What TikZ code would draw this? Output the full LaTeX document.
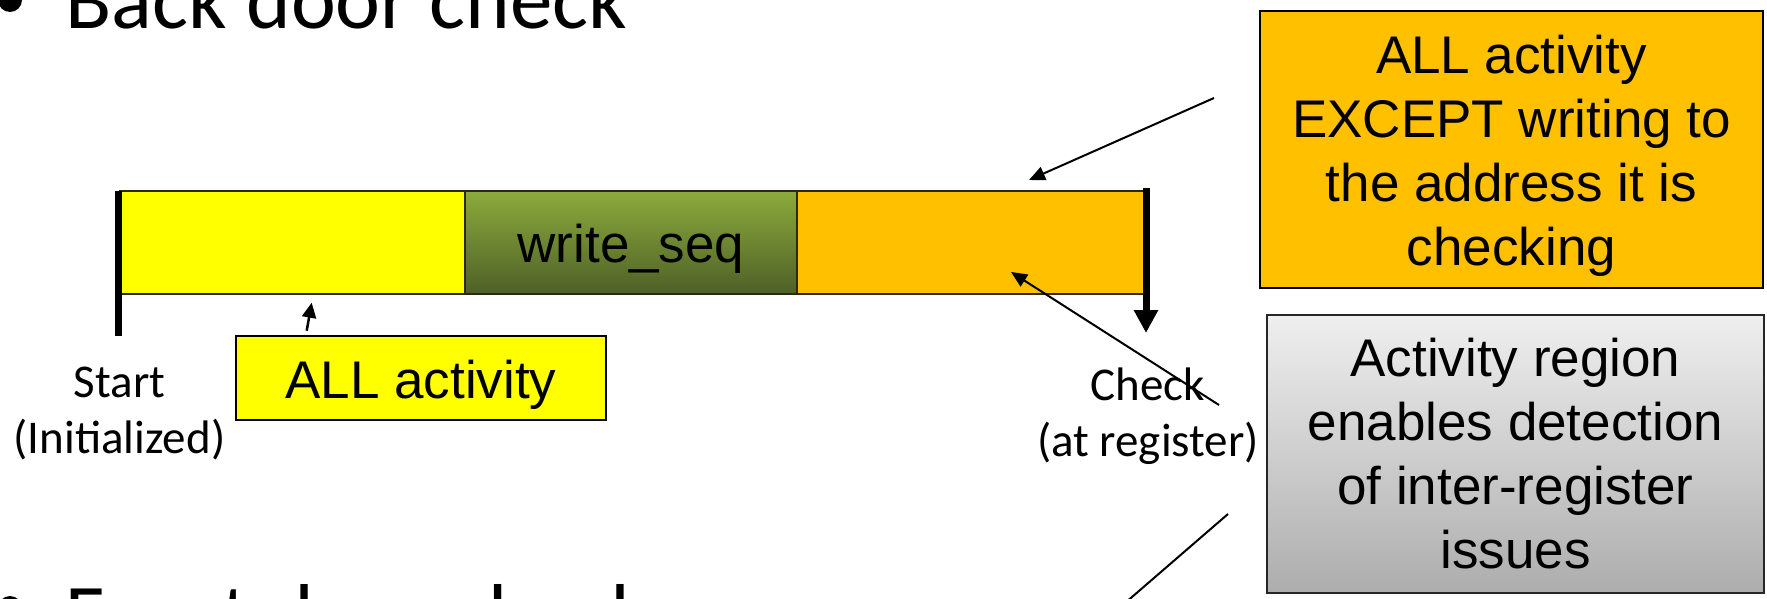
\documentclass[tikz,border=0pt]{standalone}
\usepackage{fontspec}
\setmainfont{Carlito}
\newfontfamily\arialfont{Liberation Sans}
\usetikzlibrary{arrows.meta}

\definecolor{barYellow}{HTML}{FFFF00}
\definecolor{barOrange}{HTML}{FFC000}
\definecolor{seqTop}{HTML}{8CAB3C}
\definecolor{seqBottom}{HTML}{4E6027}
\definecolor{noteTop}{HTML}{EFEFEF}
\definecolor{noteBottom}{HTML}{ADADAD}
\definecolor{barEdge}{HTML}{2A2A14}

\begin{document}
\begin{tikzpicture}[x=1pt, y=-1pt,
  every node/.style={inner sep=0pt, outer sep=0pt},
  heading/.style={font=\fontsize{85}{100}\selectfont, anchor=base west},
  seg/.style={draw=barEdge, line width=1.3pt, anchor=north west, minimum height=103pt},
  note/.style={draw=black, line width=2.2pt, anchor=north west},
  arialtext/.style={font=\arialfont\fontsize{53}{63.7}\selectfont},
  notetext/.style={arialtext, align=center, anchor=base},
  lbl/.style={font=\fontsize{47}{55.5}\selectfont, align=center, anchor=base},
  pointer/.style={line width=2pt, -{Triangle[length=16pt, width=14pt]}},
  marker/.style={line width=7pt},
]
\useasboundingbox (0,0) rectangle (1767,599);
\clip (0,0) rectangle (1767,599);

% bulleted headings
\fill (10,0) circle[radius=12pt];
\node[heading] (backdoor) at (65.6,28.3) {Back door check};
\fill (10,608) circle[radius=12pt];
\node[heading] (frontdoor) at (65.6,643) {Front door check};

% timeline segments
\node[seg, fill=barYellow, minimum width=345pt] (pre) at (120,191) {};
\node[seg, top color=seqTop, bottom color=seqBottom, minimum width=332pt,
      arialtext, text height=39pt, text depth=0pt] (seq) at (465,191) {write\_seq};
\node[seg, fill=barOrange, minimum width=347pt] (post) at (797,191) {};

% start and check markers
\coordinate (startTop) at (118,191);
\coordinate (startBot) at (118,336);
\draw[marker] (startTop) -- (startBot);
\coordinate (checkTop) at (1146,188);
\coordinate (checkBot) at (1146,333);
\draw[marker, -{Triangle[length=23pt, width=23pt]}] (checkTop) -- (checkBot);

% multi-line nodes are placed by the baseline of their last line
\node[lbl] (startlbl) at (119.5,453) {Start\\(Initialized)};
\node[lbl] (checklbl) at (1148,456) {Check\\(at register)};

% activity notes
\node[note, fill=barYellow, minimum width=370pt, minimum height=84pt,
      arialtext, text height=40.6pt, text depth=0pt] (allbox) at (236,336) {ALL activity};

\node[note, fill=barOrange, minimum width=503pt, minimum height=277pt] (exceptbox) at (1260,11) {};
\node[notetext] (excepttext) at (1511.5,265) {ALL activity\\EXCEPT writing to\\the address it is\\checking};

\node[note, top color=noteTop, bottom color=noteBottom, draw=black!85,
      minimum width=497pt, minimum height=278pt] (regionbox) at (1267,315) {};
\node[notetext] (regiontext) at (1515.5,568) {Activity region\\enables detection\\of inter-register\\issues};

% pointers
\coordinate (allTail) at (306.7,330.7);
\coordinate (allHead) at (311.7,302.7);
\draw[line width=2.5pt, -{Triangle[length=15pt, width=14pt]}] (allTail) -- (allHead);

\coordinate (exceptTail) at (1214,98);
\coordinate (exceptHead) at (1029,180);
\draw[pointer] (exceptTail) -- (exceptHead);

\coordinate (checkTail) at (1219,405);
\coordinate (checkHead) at (1011,272);
\draw[pointer] (checkTail) -- (checkHead);

\coordinate (regionTail) at (1228,514);
\coordinate (regionEnd) at (1110,616);
\draw[line width=2pt] (regionTail) -- (regionEnd);
\end{tikzpicture}
\end{document}
